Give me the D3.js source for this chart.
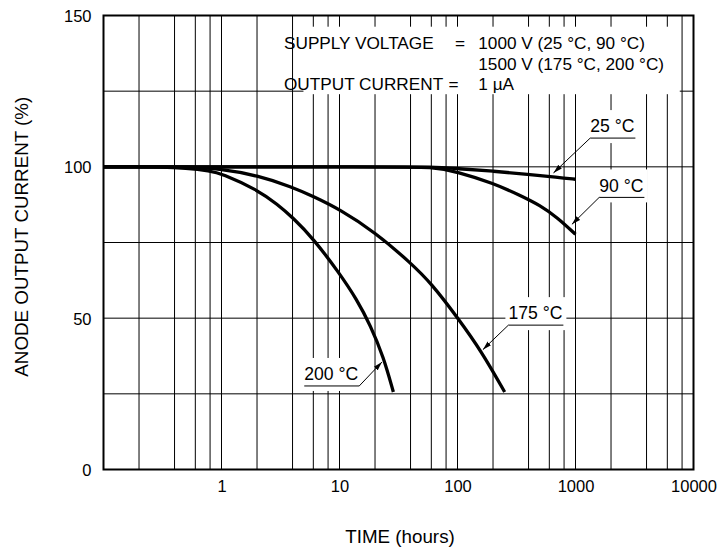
<!DOCTYPE html>
<html>
<head>
<meta charset="utf-8">
<script src="https://cdn.jsdelivr.net/npm/d3@7"></script>
<style>
  html, body { margin: 0; padding: 0; background: #fff; }
  svg { display: block; font-family: "Liberation Sans", Arial, Helvetica, sans-serif; }
</style>
</head>
<body>
<svg id="chart" width="723" height="549"></svg>
<script>
// ---- data ----
const xTickValues = [1, 10, 100, 1000, 10000];
const xTickLabels = ["1", "10", "100", "1000", "10000"];
const yTickValues = [0, 50, 100, 150];
const yTickLabels = ["0", "50", "100", "150"];
const gridDecades = [0.1, 1, 10, 100, 1000];
const gridMultipliers = [2, 4, 6, 8, 10];
const gridYValues = [25, 50, 75, 100, 125];

// [hours, %] pairs
const curve25 = [[0.1,100],[30,100],[60,100],[100,99.4],[200,98.6],[400,97.5],[700,96.6],[1000,95.9]];
const curve90 = [[0.1,100],[30,100],[60,100],[100,98.4],[200,94.6],[340,90.6],[500,87.3],[700,83.3],[1000,77.7]];
const curve175 = [[0.1,100],[0.3,100],[0.5,100],[1,99.3],[2,97.2],[4,93.3],[6,90.2],[10,86.0],[20,78.4],[40,68.3],[60,61.5],[100,50.2],[160,39.0],[251,25.6]];
const curve200 = [[0.1,100],[0.2,100],[0.3,100],[0.5,99.6],[0.8,98.7],[1,97.8],[2,92.5],[3,87.5],[4,83.3],[6,76.3],[10,64.8],[14,56.2],[18.3,47.6],[23.6,37.2],[28.6,25.6]];
const curves = [curve25, curve90, curve175, curve200];

const labelNames = ["25 °C", "90 °C", "175 °C", "200 °C"];
// leader start (underline end) and arrow tip, in data units [hours, %]
const labelAnchors = [[1332, 109.5], [1588, 89.9], [270, 47.7], [14.7, 27.6]];
const labelTips = [[651, 98.0], [932, 81.0], [164, 39.6], [22.9, 35.5]];
const labelSides = ["left", "left", "left", "right"];

const noteLeft = ["SUPPLY VOLTAGE", "", "OUTPUT CURRENT"];
const noteEq = ["=", "", "="];
const noteRight = ["1000 V (25 °C, 90 °C)", "1500 V (175 °C, 200 °C)", "1 µA"];

// ---- layout ----
const svg = d3.select("#chart");
const L = 103.5, T = 15.5, W = 590, H = 454;
const x = d3.scaleLog().domain([0.1, 10000]).range([L, L + W]);
const y = d3.scaleLinear().domain([0, 150]).range([T + H, T]);

// grid
const gridXValues = [];
gridDecades.forEach(d => gridMultipliers.forEach(m => gridXValues.push(d * m)));
const grid = svg.append("g");
grid.selectAll("line.gx").data(gridXValues.filter(v => v < 10000)).enter().append("line")
  .attr("x1", d => x(d)).attr("x2", d => x(d))
  .attr("y1", T).attr("y2", T + H)
  .attr("stroke", "#000").attr("stroke-width", 1);
grid.selectAll("line.gy").data(gridYValues).enter().append("line")
  .attr("x1", L).attr("x2", L + W)
  .attr("y1", d => y(d)).attr("y2", d => y(d))
  .attr("stroke", "#000").attr("stroke-width", 1);

// white mask behind the notes
const noteX0 = x(4.95), noteX1 = x(7650);
svg.append("rect")
  .attr("x", noteX0).attr("y", y(146.3))
  .attr("width", noteX1 - noteX0).attr("height", y(124) - y(146.3))
  .attr("fill", "#fff");

const noteG = svg.append("g").attr("font-size", 17.2).attr("fill", "#000");
const noteBase = [49.3, 69.7, 90];
noteLeft.forEach((t, i) => {
  noteG.append("text").attr("x", 284).attr("y", noteBase[i]).text(t);
});
noteEq.forEach((t, i) => {
  noteG.append("text").attr("x", i === 0 ? 455 : 448.5).attr("y", noteBase[i]).text(t);
});
noteRight.forEach((t, i) => {
  noteG.append("text").attr("x", 478.3).attr("y", noteBase[i]).text(t);
});

// curve labels
const defs = svg.append("defs");
defs.append("marker").attr("id", "arr")
  .attr("viewBox", "0 -3 9 6").attr("refX", 9).attr("refY", 0)
  .attr("markerWidth", 9).attr("markerHeight", 6)
  .attr("markerUnits", "userSpaceOnUse").attr("orient", "auto")
  .append("path").attr("d", "M0,-2.6L9,0L0,2.6Z").attr("fill", "#000");

const labG = svg.append("g");
labelNames.forEach((name, i) => {
  const ax = x(labelAnchors[i][0]), ay = y(labelAnchors[i][1]);
  const g = labG.append("g");
  const mask = g.append("rect").attr("fill", "#fff");
  const txt = g.append("text").attr("font-size", 17.6).attr("y", ay - 5.7).text(name);
  const w = txt.node().getComputedTextLength();
  const ulw = w + 1;
  const x0 = labelSides[i] === "left" ? ax : ax - ulw;
  txt.attr("x", x0);
  mask.attr("x", x0 - 3).attr("y", ay - 28).attr("width", ulw + 6).attr("height", 33);
  g.append("line").attr("x1", x0).attr("x2", x0 + ulw).attr("y1", ay).attr("y2", ay)
    .attr("stroke", "#000").attr("stroke-width", 1);
  g.append("line").attr("x1", ax).attr("y1", ay)
    .attr("x2", x(labelTips[i][0])).attr("y2", y(labelTips[i][1]))
    .attr("stroke", "#000").attr("stroke-width", 1).attr("marker-end", "url(#arr)");
});

// curves
const line = d3.line().x(d => x(d[0])).y(d => y(d[1])).curve(d3.curveBasis);
svg.append("g").selectAll("path").data(curves).enter().append("path")
  .attr("d", line).attr("fill", "none").attr("stroke", "#000")
  .attr("stroke-width", 3.3).attr("stroke-linejoin", "round");

// frame
svg.append("rect").attr("x", L).attr("y", T).attr("width", W).attr("height", H)
  .attr("fill", "none").attr("stroke", "#000").attr("stroke-width", 2);

// axes
const xAxis = d3.axisBottom(x).tickValues(xTickValues)
  .tickFormat((d, i) => xTickLabels[i]).tickSize(0).tickPadding(0);
const gx = svg.append("g").attr("transform", `translate(0,${T + H})`).call(xAxis);
gx.select(".domain").remove();
gx.selectAll("text").attr("font-size", 16.5).attr("font-family", null)
  .attr("dy", null).attr("y", 22.3).attr("fill", "#000");

const yAxis = d3.axisLeft(y).tickValues(yTickValues)
  .tickFormat((d, i) => yTickLabels[i]).tickSize(0).tickPadding(0);
const gy = svg.append("g").attr("transform", `translate(${L},0)`).call(yAxis);
gy.select(".domain").remove();
gy.selectAll("text").attr("font-size", 16.5).attr("font-family", null)
  .attr("x", -12).attr("dy", "0.36em").attr("fill", "#000");

// titles
svg.append("text").attr("x", 400).attr("y", 542.7).attr("text-anchor", "middle")
  .attr("font-size", 18.8).text("TIME (hours)");
svg.append("text").attr("transform", "translate(28.3,236.7) rotate(-90)")
  .attr("text-anchor", "middle").attr("font-size", 18.8).text("ANODE OUTPUT CURRENT (%)");
</script>
</body>
</html>
